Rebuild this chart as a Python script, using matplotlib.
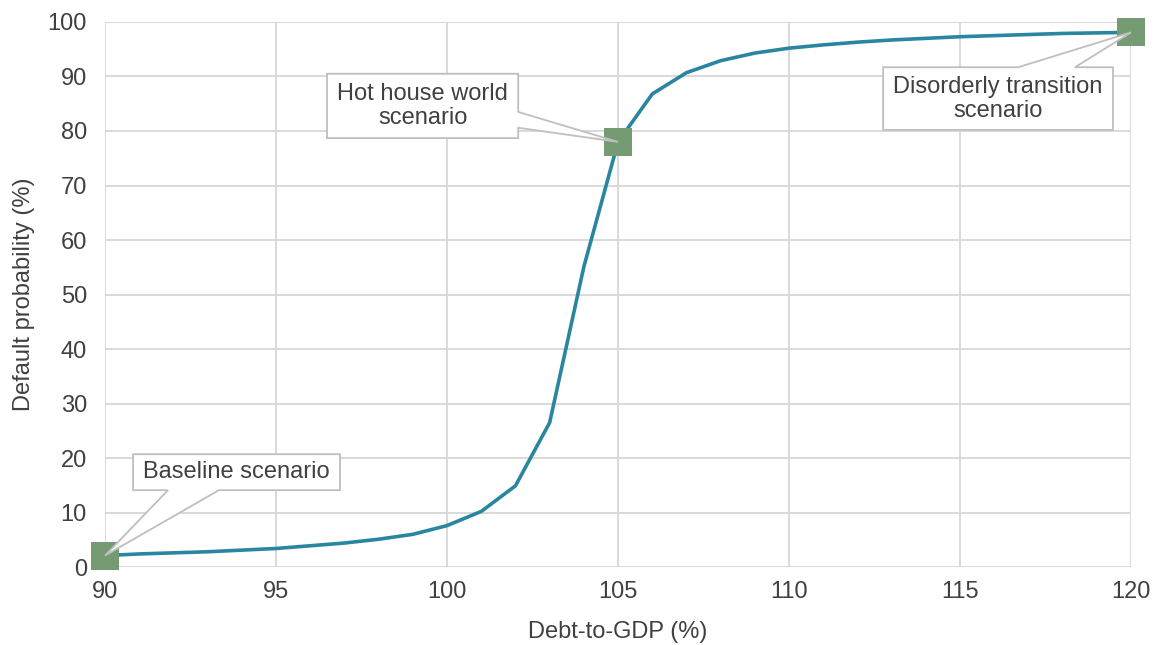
import numpy as np
import matplotlib
matplotlib.use("Agg")
import matplotlib.pyplot as plt
from matplotlib.patches import Polygon

plt.rcParams['font.family'] = ['Liberation Sans', 'DejaVu Sans']

# debt-to-GDP grid and default probability
debt = [90, 91, 92, 93, 94, 95, 96, 97, 98, 99, 100, 101, 102, 103, 104, 105,
        106, 107, 108, 109, 110, 111, 112, 113, 114, 115, 116, 117, 118, 119, 120]
prob = [2.1, 2.4, 2.6, 2.8, 3.1, 3.4, 3.9, 4.4, 5.1, 6.0, 7.6, 10.2, 14.9, 26.5, 55.1, 78.0,
        86.8, 90.7, 92.9, 94.3, 95.2, 95.8, 96.3, 96.7, 97.0, 97.3, 97.5, 97.7, 97.9, 98.0, 98.1]

scen_names = ["Baseline scenario", "Hot house world\nscenario", "Disorderly transition\nscenario"]
scen_debt = [90, 105, 120]
scen_prob = [2.1, 78.0, 98.1]

xticks = [90, 95, 100, 105, 110, 115, 120]
yticks = list(range(0, 101, 10))

text_col = '#404040'
line_col = '#2a86a0'
mark_col = '#759b72'
grid_col = '#d9d9d9'
box_edge = '#bfbfbf'
fs = 17

fig = plt.figure(figsize=(11.53, 6.45), dpi=100)
ax = fig.add_axes([0.0911, 0.1209, 0.8899, 0.845])

ax.plot(debt, prob, color=line_col, lw=2.6, zorder=3, solid_capstyle='butt')
ax.plot(scen_debt, scen_prob, 's', color=mark_col, ms=19.5, mew=0, zorder=4, clip_on=False)

ax.set_xlim(90, 120)
ax.set_ylim(0, 100)
ax.set_xticks(xticks)
ax.set_yticks(yticks)
ax.grid(True, color=grid_col, lw=1.4)
ax.set_axisbelow(True)
for s in ax.spines.values():
    s.set_visible(False)
ax.tick_params(axis='y', length=0, labelsize=fs, labelcolor=text_col, pad=13)
ax.tick_params(axis='x', length=0, labelsize=fs, labelcolor=text_col, pad=10)
ax.set_xlabel("Debt-to-GDP (%)", fontsize=fs, color=text_col, labelpad=13)
ax.set_ylabel("Default probability (%)", fontsize=fs, color=text_col, labelpad=9)


# callout boxes: (x0, x1, y0, y1), which side holds the wedge, wedge base span
def callout(name, tip, box, side, base):
    x0, x1, y0, y1 = box
    if side == 'bottom':
        pts = [(x0, y1), (x1, y1), (x1, y0), (base[1], y0), tip, (base[0], y0), (x0, y0)]
    elif side == 'right':
        pts = [(x0, y1), (x1, y1), (x1, base[1]), tip, (x1, base[0]), (x1, y0), (x0, y0)]
    else:  # top
        pts = [(x0, y1), (base[0], y1), tip, (base[1], y1), (x1, y1), (x1, y0), (x0, y0)]
    poly = Polygon(pts, closed=True, facecolor='white', edgecolor=box_edge, lw=1.3,
                   zorder=5, clip_on=False)
    ax.add_patch(poly)
    ax.text((x0 + x1) / 2, (y0 + y1) / 2, name, ha='center', va='center',
            fontsize=fs, color=text_col, zorder=6, linespacing=1.12)


callout(scen_names[0], (scen_debt[0], scen_prob[0]), (90.82, 96.87, 14.1, 20.7), 'bottom', (91.84, 93.33))
callout(scen_names[1], (scen_debt[1], scen_prob[1]), (96.49, 102.08, 78.7, 90.5), 'right', (80.6, 83.5))
callout(scen_names[2], (scen_debt[2], scen_prob[2]), (112.75, 119.47, 80.2, 91.7), 'top', (116.70, 118.36))

fig.savefig("out.png", dpi=100)
